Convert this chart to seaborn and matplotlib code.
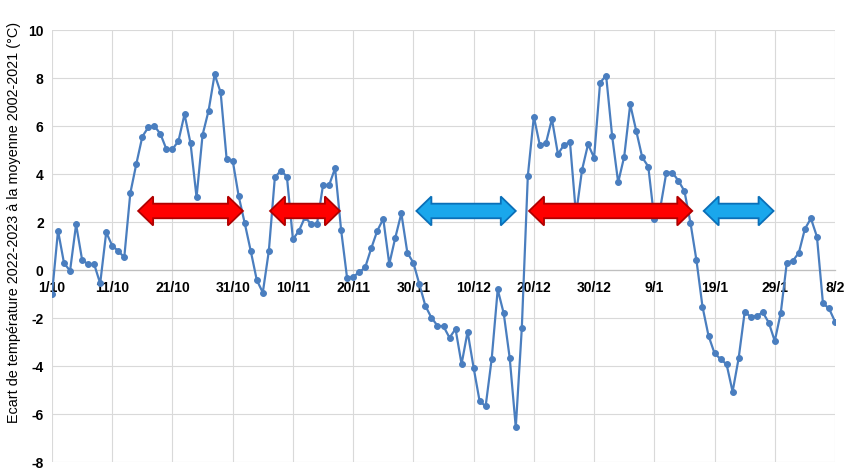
import numpy as np
import pandas as pd
import matplotlib
matplotlib.use("Agg")
import matplotlib.pyplot as plt
import seaborn as sns
from matplotlib.patches import Polygon

# ---- data ----
tick_labels = ["1/10", "11/10", "21/10", "31/10", "10/11", "20/11", "30/11",
               "10/12", "20/12", "30/12", "9/1", "19/1", "29/1", "8/2"]
ecart = [
    -1.0, 1.64, 0.28, -0.03, 1.9, 0.42, 0.24, 0.24, -0.56, 1.57,
    1.01, 0.79, 0.53, 3.2, 4.42, 5.56, 5.95, 6.0, 5.67, 5.03,
    5.03, 5.38, 6.49, 5.28, 3.03, 5.63, 6.64, 8.15, 7.40, 4.61,
    4.56, 3.07, 1.95, 0.79, -0.42, -0.94, 0.79, 3.86, 4.14, 3.89,
    1.28, 1.63, 2.2, 1.92, 1.92, 3.54, 3.53, 4.24, 1.67, -0.35,
    -0.28, -0.1, 0.11, 0.90, 1.63, 2.13, 0.25, 1.35, 2.36, 0.72,
    0.3, -0.6, -1.5, -1.99, -2.32, -2.35, -2.82, -2.46, -3.92, -2.57,
    -4.07, -5.47, -5.67, -3.71, -0.81, -1.81, -3.68, -6.56, -2.43, 3.92,
    6.39, 5.19, 5.28, 6.29, 4.83, 5.21, 5.33, 2.3, 4.17, 5.24,
    4.68, 7.81, 8.1, 5.58, 3.65, 4.72, 6.9, 5.8, 4.69, 4.31,
    2.11, 2.6, 4.06, 4.06, 3.72, 3.29, 1.97, 0.4, -1.53, -2.74,
    -3.47, -3.71, -3.93, -5.07, -3.68, -1.76, -1.94, -1.92, -1.76, -2.19,
    -2.96, -1.78, 0.31, 0.38, 0.72, 1.71, 2.15, 1.39, -1.39, -1.6,
    -2.15,
]
days = list(range(len(ecart)))

# annotation arrows (start day, end day, kind)
arrow_starts = [14.3, 36.2, 60.5, 79.2, 108.2]
arrow_ends = [31.7, 47.8, 77.0, 106.3, 119.8]
arrow_kinds = ["chaud", "chaud", "froid", "chaud", "froid"]
arrow_level = 2.46

df = pd.DataFrame({"jour": days, "ecart": ecart})

sns.set_theme(style="white")
plt.rcParams["font.family"] = ["Liberation Sans", "DejaVu Sans"]

fig = plt.figure(figsize=(8.5, 4.74), dpi=100)
ax = fig.add_axes([52 / 850, 1 - 462 / 474, (835 - 52) / 850, (462 - 30) / 474])

line_color = "#4a7ebf"
sns.lineplot(data=df, x="jour", y="ecart", ax=ax, color=line_color,
             linewidth=1.6, marker="o", markersize=4.2,
             markeredgecolor=line_color, markerfacecolor=line_color, zorder=3)

ax.set_xlim(0, 130)
ax.set_ylim(-8, 10)
ax.set_xticks(np.arange(0, 131, 10))
ax.set_xticklabels(tick_labels)
ax.set_yticks(np.arange(-8, 11, 2))
ax.set_yticklabels([f"{v:d}" for v in range(-8, 11, 2)])

ax.grid(True, color="#d9d9d9", linewidth=0.8)
ax.set_axisbelow(True)
for s in ["top", "right", "left"]:
    ax.spines[s].set_visible(False)
ax.spines["bottom"].set_position(("data", 0))
ax.spines["bottom"].set_color("#bfbfbf")
ax.spines["bottom"].set_linewidth(0.9)

ax.tick_params(axis="x", length=0, pad=8, labelsize=10)
ax.tick_params(axis="y", length=0, pad=6, labelsize=10)
for lab in ax.get_xticklabels() + ax.get_yticklabels():
    lab.set_fontweight("bold")
    lab.set_color("black")
ax.set_xlabel("")
ax.set_ylabel("")

fig.text(14 / 850, 1 - 222 / 474,
         "Ecart de température 2022-2023 à la moyenne 2002-2021 (°C)",
         rotation=90, ha="center", va="center", fontsize=10.4, color="black")

# double-headed arrows
px_day = (835 - 52) / 130.0
px_unit = (462 - 30) / 18.0
head_len = 15 / px_day
shaft_h = 7.3 / px_unit
head_h = 14.5 / px_unit
styles = {"chaud": ("#ff0000", "#b00000"), "froid": ("#1aa7ec", "#0a6fb8")}
for x0, x1, kind in zip(arrow_starts, arrow_ends, arrow_kinds):
    y = arrow_level
    pts = [
        (x0, y),
        (x0 + head_len, y + head_h),
        (x0 + head_len, y + shaft_h),
        (x1 - head_len, y + shaft_h),
        (x1 - head_len, y + head_h),
        (x1, y),
        (x1 - head_len, y - head_h),
        (x1 - head_len, y - shaft_h),
        (x0 + head_len, y - shaft_h),
        (x0 + head_len, y - head_h),
    ]
    fc, ec = styles[kind]
    ax.add_patch(Polygon(pts, closed=True, facecolor=fc, edgecolor=ec,
                         linewidth=1.3, zorder=5))

fig.savefig("out.png", dpi=100)
